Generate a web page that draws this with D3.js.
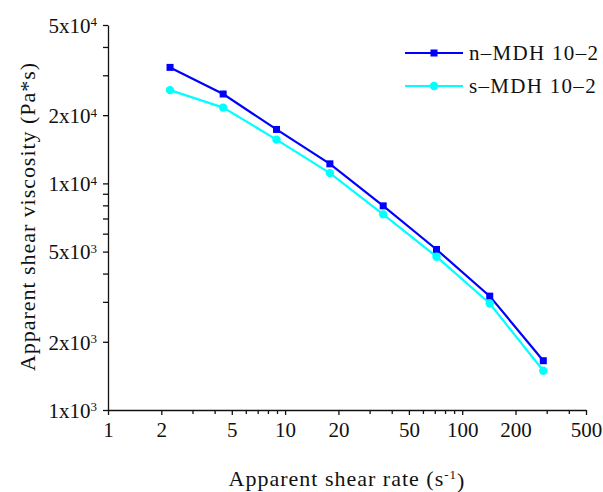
<!DOCTYPE html>
<html>
<head>
  <style>
    body { margin: 0; background: #fff; }
    svg text { font-family: "Liberation Serif", "Times New Roman", serif; fill: #111; }
    .axis path, .axis line { stroke: #111; stroke-width: 1.3px; }
  </style>
</head>
<body>
  <svg id="chart" width="603" height="492"></svg>
</body>
<script src="https://cdn.jsdelivr.net/npm/d3@7"></script>
<script>
  // values
  let shearRate = [2.24, 4.47, 8.94, 17.9, 35.8, 71.6, 143, 287];
  let nMDH = [32500, 24800, 17300, 12200, 7960, 5110, 3180, 1650];
  let sMDH = [25800, 21600, 15600, 11100, 7300, 4750, 2950, 1490];
  let seriesNames = ["n\u2013MDH 10\u20132", "s\u2013MDH 10\u20132"];
  let xTickValues = [1, 2, 5, 10, 20, 50, 100, 200, 500];
  let xMinorValues = [3, 4, 6, 7, 8, 9, 30, 40, 60, 70, 80, 90, 300, 400];
  let yTickValues = [1000, 2000, 5000, 10000, 20000, 50000];
  let yMinorValues = [3000, 4000, 6000, 7000, 8000, 9000, 30000, 40000];

  let svg = d3.select("#chart");

  let x = d3.scaleLog().domain([1, 500]).range([108, 586]);
  let y = d3.scaleLog().domain([1000, 50000]).range([410, 25]);

  // minor ticks first
  svg.append("g").attr("class", "axis")
    .attr("transform", "translate(0,410)")
    .call(d3.axisBottom(x).tickValues(xMinorValues).tickSize(4).tickFormat(""))
    .select(".domain").remove();
  svg.append("g").attr("class", "axis")
    .attr("transform", "translate(108,0)")
    .call(d3.axisLeft(y).tickValues(yMinorValues).tickSize(5).tickFormat(""))
    .select(".domain").remove();

  let xAxis = svg.append("g").attr("class", "axis")
    .attr("transform", "translate(0,410)")
    .call(d3.axisBottom(x).tickValues(xTickValues).tickSize(5).tickSizeOuter(0).tickFormat(d => d));
  xAxis.selectAll("text")
    .attr("y", 12)
    .style("font-size", "21px")
    .style("font-family", "Liberation Serif");

  let yAxis = svg.append("g").attr("class", "axis")
    .attr("transform", "translate(108,0)")
    .call(d3.axisLeft(y).tickValues(yTickValues).tickSize(5).tickSizeOuter(0).tickFormat(""));

  yAxis.selectAll(".tick").each(function(d) {
    let e = Math.floor(Math.log10(d) + 1e-9);
    let m = Math.round(d / Math.pow(10, e));
    let t = d3.select(this).append("text")
      .attr("x", -11)
      .attr("dy", "0.35em")
      .attr("text-anchor", "end")
      .style("font-size", "21px")
      .style("font-family", "Liberation Serif");
    t.append("tspan").text(m + "x10");
    t.append("tspan").attr("dy", "-0.5em").style("font-size", "13px").text(e);
  });

  // axis titles
  svg.append("text")
    .attr("transform", "translate(35,217) rotate(-90)")
    .attr("text-anchor", "middle")
    .attr("textLength", 308)
    .attr("lengthAdjust", "spacing")
    .style("font-size", "22px")
    .text("Apparent shear viscosity (Pa*s)");

  let xt = svg.append("text")
    .attr("x", 347).attr("y", 486)
    .attr("text-anchor", "middle")
    .style("font-size", "22px")
    .style("letter-spacing", "1px");
  xt.append("tspan").text("Apparent shear rate (s");
  xt.append("tspan").attr("dy", "-0.55em").style("font-size", "13px").text("-1");
  xt.append("tspan").attr("dy", "0.4em").text(")");

  let series = [
    { name: seriesNames[0], values: nMDH, color: "#0000ff", shape: "square" },
    { name: seriesNames[1], values: sMDH, color: "#00ffff", shape: "circle" }
  ];

  let line = d3.line().x(d => x(d[0])).y(d => y(d[1]));

  series.forEach(s => {
    let pts = shearRate.map((r, i) => [r, s.values[i]]);
    svg.append("path")
      .datum(pts)
      .attr("fill", "none")
      .attr("stroke", s.color)
      .attr("stroke-width", 2.2)
      .attr("d", line);
    let sym = d3.symbol().type(s.shape == "square" ? d3.symbolSquare : d3.symbolCircle).size(s.shape == "square" ? 49 : 56);
    svg.selectAll(null)
      .data(pts)
      .enter()
      .append("path")
      .attr("d", sym)
      .attr("transform", d => "translate(" + x(d[0]) + "," + y(d[1]) + ")")
      .attr("fill", s.color);
  });

  // legend
  let legend = svg.append("g");
  series.forEach((s, i) => {
    let ly = 53 + i * 33;
    legend.append("line")
      .attr("x1", 405).attr("x2", 463)
      .attr("y1", ly).attr("y2", ly)
      .attr("stroke", s.color).attr("stroke-width", 2.2);
    legend.append("path")
      .attr("d", d3.symbol().type(s.shape == "square" ? d3.symbolSquare : d3.symbolCircle).size(s.shape == "square" ? 49 : 56))
      .attr("transform", "translate(434," + ly + ")")
      .attr("fill", s.color);
    legend.append("text")
      .attr("x", 469).attr("y", ly)
      .attr("dy", "0.35em")
      .style("font-size", "21px")
      .style("letter-spacing", "1.3px")
      .text(s.name);
  });
</script>
</html>
